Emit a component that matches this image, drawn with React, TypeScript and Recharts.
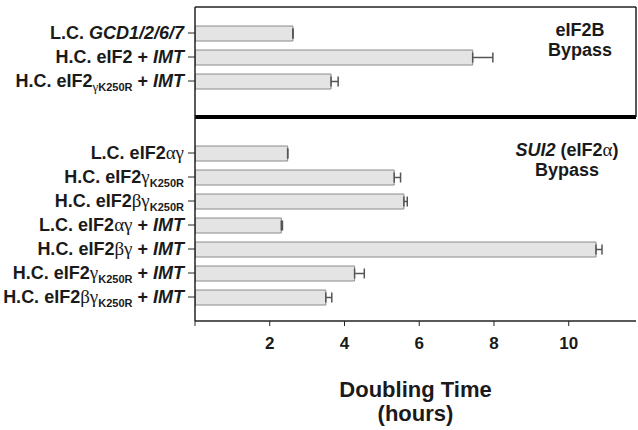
import React from "react";
import { Bar, BarChart, ErrorBar, XAxis, YAxis } from "recharts";

// markup in labels: *...* = italic, _{...} = subscript
const topLabels = [
  "L.C. *GCD1/2/6/7*",
  "H.C. eIF2 + *IMT*",
  "H.C. eIF2_{γK250R} + *IMT*",
];
const topValues = [2.62, 7.43, 3.64];
const topErrors = [0, 0.54, 0.19];

const bottomLabels = [
  "L.C. eIF2αγ",
  "H.C. eIF2γ_{K250R}",
  "H.C. eIF2βγ_{K250R}",
  "L.C. eIF2αγ + *IMT*",
  "H.C. eIF2βγ + *IMT*",
  "H.C. eIF2γ_{K250R} + *IMT*",
  "H.C. eIF2βγ_{K250R} + *IMT*",
];
const bottomValues = [2.48, 5.33, 5.59, 2.31, 10.73, 4.27, 3.5];
const bottomErrors = [0, 0.17, 0.09, 0.03, 0.16, 0.26, 0.16];

const xTicks = [0, 2, 4, 6, 8, 10];
const xMax = 11.8;

const FONT = '"Liberation Sans", Arial, sans-serif';
const INK = "#1a1a1a";

const topData = topLabels.map((name, i) => ({
  name,
  value: topValues[i],
  err: [0, topErrors[i]],
}));
const bottomData = bottomLabels.map((name, i) => ({
  name,
  value: bottomValues[i],
  err: [0, bottomErrors[i]],
}));

type Seg = { text: string; italic: boolean; sub: boolean };

const parseLabel = (s: string) => {
  const segs: Seg[] = [];
  let italic = false;
  let sub = false;
  let buf = "";
  const flush = () => {
    if (buf) segs.push({ text: buf, italic, sub });
    buf = "";
  };
  for (let i = 0; i < s.length; i++) {
    const c = s[i];
    if (c === "*") {
      flush();
      italic = !italic;
    } else if (c === "_" && s[i + 1] === "{") {
      flush();
      sub = true;
      i++;
    } else if (c === "}" && sub) {
      flush();
      sub = false;
    } else buf += c;
  }
  flush();
  return segs;
};

const LabelTick = (props: any) => {
  const { x, y, payload } = props;
  const segs = parseLabel(String(payload.value));
  let shift = 0;
  const spans: React.ReactNode[] = [];
  segs.forEach((seg, i) => {
    seg.text.split(/([αβγ]+)/).forEach((part, j) => {
      if (!part) return;
      const greek = /[αβγ]/.test(part);
      const target = seg.sub ? 4 : 0;
      const dy = target - shift;
      shift = target;
      spans.push(
        <tspan
          key={`${i}-${j}`}
          dy={dy}
          fontSize={seg.sub ? (greek ? 13 : 11) : greek ? 19 : 18}
          fontStyle={seg.italic ? "italic" : "normal"}
          fontWeight={greek ? 400 : 700}
          fontFamily={greek ? '"Liberation Serif", serif' : FONT}
        >
          {part}
        </tspan>
      );
    });
  });
  return (
    <text x={x} y={y + 6} textAnchor="end" fill={INK} style={{ whiteSpace: "pre" }}>
      {spans}
    </text>
  );
};

const AxisTitle = (props: any) => {
  const { viewBox } = props;
  const cx = viewBox.x + viewBox.width / 2;
  return (
    <text textAnchor="middle" fill={INK} fontFamily={FONT} fontWeight={700} fontSize={22}>
      <tspan x={cx} y={viewBox.y + 76}>Doubling Time</tspan>
      <tspan x={cx} y={viewBox.y + 100}>(hours)</tspan>
    </text>
  );
};

const panelText: React.CSSProperties = {
  position: "absolute",
  width: 160,
  textAlign: "center",
  fontFamily: FONT,
  fontWeight: 700,
  fontSize: 18,
  lineHeight: "20px",
  color: INK,
};

export default function App() {
  return (
    <div
      style={{
        position: "absolute",
        left: 0,
        top: 0,
        width: 638,
        height: 430,
        background: "#fff",
        fontFamily: FONT,
      }}
    >
      <div style={{ position: "absolute", left: 0, top: 0 }}>
        <BarChart
          layout="vertical"
          width={638}
          height={120}
          data={topData}
          margin={{ top: 6, right: 1, bottom: 2, left: 0 }}
          barSize={15}
        >
          <XAxis
            type="number"
            domain={[0, xMax]}
            allowDataOverflow
            height={1}
            tick={false}
            tickLine={false}
            axisLine={{ stroke: "#000", strokeWidth: 4 }}
          />
          <XAxis
            xAxisId="top"
            orientation="top"
            type="number"
            domain={[0, xMax]}
            allowDataOverflow
            height={1}
            tick={false}
            tickLine={false}
            axisLine={{ stroke: "#222", strokeWidth: 1.5 }}
          />
          <YAxis
            type="category"
            dataKey="name"
            width={195}
            padding={{ top: 14, bottom: 24 }}
            interval={0}
            tick={<LabelTick />}
            tickSize={7}
            tickMargin={4}
            axisLine={{ stroke: "#222", strokeWidth: 1.5 }}
            tickLine={{ stroke: "#222" }}
          />
          <YAxis
            yAxisId="r"
            orientation="right"
            type="category"
            dataKey="name"
            width={1}
            tick={false}
            tickLine={false}
            axisLine={{ stroke: "#222", strokeWidth: 1.5 }}
          />
          <Bar dataKey="value" fill="#e4e4e4" stroke="#8a8a8a" isAnimationActive={false}>
            <ErrorBar dataKey="err" direction="x" width={5} stroke="#555" />
          </Bar>
        </BarChart>
      </div>

      <div style={{ position: "absolute", left: 0, top: 117 }}>
        <BarChart
          layout="vertical"
          width={638}
          height={313}
          data={bottomData}
          margin={{ top: 0, right: 2, bottom: 0, left: 0 }}
          barSize={15}
        >
          <XAxis
            type="number"
            domain={[0, xMax]}
            allowDataOverflow
            ticks={xTicks}
            tickFormatter={(v: number) => (v === 0 ? "" : String(v))}
            height={109}
            tickSize={5}
            tickMargin={11}
            tick={{ fill: INK, fontSize: 17, fontWeight: 700, fontFamily: FONT }}
            axisLine={{ stroke: "#222", strokeWidth: 1.5 }}
            tickLine={{ stroke: "#222" }}
            label={<AxisTitle />}
          />
          <YAxis
            type="category"
            dataKey="name"
            width={195}
            padding={{ top: 24, bottom: 12 }}
            interval={0}
            tick={<LabelTick />}
            tickSize={7}
            tickMargin={4}
            axisLine={{ stroke: "#222", strokeWidth: 1.5 }}
            tickLine={{ stroke: "#222" }}
          />
          <Bar dataKey="value" fill="#e4e4e4" stroke="#8a8a8a" isAnimationActive={false}>
            <ErrorBar dataKey="err" direction="x" width={5} stroke="#555" />
          </Bar>
        </BarChart>
      </div>

      <div style={{ ...panelText, left: 500, top: 20 }}>
        eIF2B
        <br />
        Bypass
      </div>
      <div style={{ ...panelText, left: 487, top: 140, width: 160 }}>
        <i>SUI2</i> (eIF2<span style={{ fontFamily: '"Liberation Serif", serif', fontWeight: 400, fontSize: 19 }}>α</span>)
        <br />
        Bypass
      </div>
    </div>
  );
}
